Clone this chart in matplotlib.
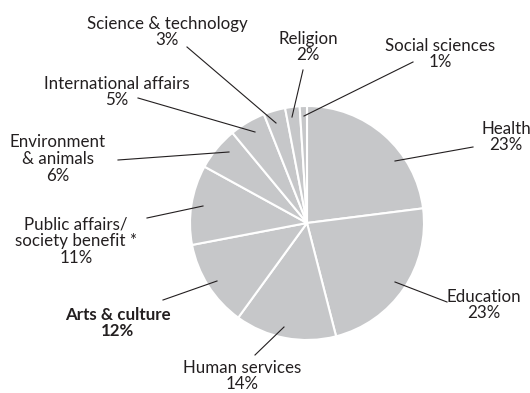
import matplotlib.pyplot as plt

categories = ['Health', 'Education', 'Human services', 'Arts & culture',
              'Public affairs/\nsociety benefit *', 'Environment\n& animals',
              'International affairs', 'Science & technology', 'Religion',
              'Social sciences']
shares = [23, 23, 14, 12, 11, 6, 5, 3, 2, 1]
highlight = 'Arts & culture'

# label centre, leader start, leader end (pixel coords, y from top)
label_layout = [
    ((506, 137), (473, 147), (395, 161)),
    ((484, 305), (447, 302), (395, 282)),
    ((242, 376), (255, 355), (284, 327)),
    ((118, 323), (163, 300), (217, 281)),
    ((76, 241), (147, 218), (203, 206)),
    ((58, 159), (118, 160), (229, 152)),
    ((117, 92), (138, 98), (255, 132)),
    ((167, 32), (187, 47), (276, 123)),
    ((308, 47), (303, 70), (292, 117)),
    ((440, 54), (413, 62), (304, 116)),
]

W, H = 530, 393
text_col = '#231f20'

fig = plt.figure(figsize=(W / 100, H / 100), dpi=100)
ax = fig.add_axes([0, 0, 1, 1])

ax.pie(shares, startangle=90, counterclock=False, center=(307, H - 223),
       radius=117, colors=['#c6c7c9'],
       wedgeprops=dict(edgecolor='white', linewidth=1.5))
ax.set_xlim(0, W)
ax.set_ylim(0, H)
ax.set_aspect('equal')
ax.axis('off')

for name, share, (txt, p0, p1) in zip(categories, shares, label_layout):
    ax.plot([p0[0], p1[0]], [H - p0[1], H - p1[1]], color=text_col, lw=0.8)
    ax.text(txt[0], H - txt[1], f'{name}\n{share}%', ha='center', va='center',
            multialignment='center', fontsize=12.2, family='Lato',
            linespacing=1.05, color=text_col,
            fontweight='bold' if name == highlight else 'normal')

fig.savefig('out.png', dpi=100)
